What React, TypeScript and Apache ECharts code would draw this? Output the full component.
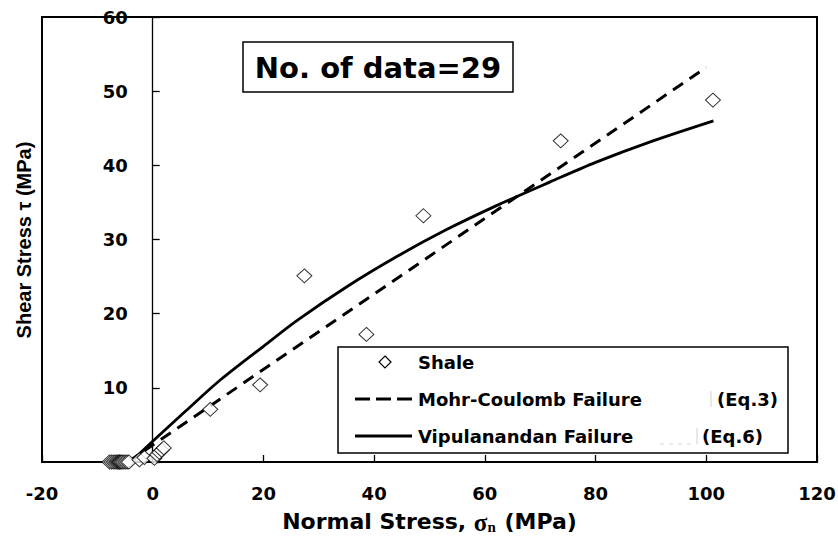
import React, { useEffect, useRef } from "react";
import * as echarts from "echarts";

// ---- data ----
const shaleStress = [
  -7.8, -7.45, -7.1, -6.8, -6.5, -6.3, -6.1, -6.0, -5.9, -5.7, -5.5, -5.2, -4.9, -4.6, -4.3,
  -2.4, -1.5, 0.3, 0.8, 1.2, 1.6, 2.0,
  10.4, 19.4, 27.4, 38.6, 48.9, 73.7, 101.2,
];
const shaleShear = [
  0, 0, 0, 0, 0, 0, 0, 0, 0, 0, 0, 0, 0, 0, 0,
  0.3, 0.6, 0.5, 1.0, 1.3, 1.6, 1.9,
  7.1, 10.4, 25.1, 17.2, 33.2, 43.3, 48.8,
];
const mohrStress = [-4.5, 100];
const mohrShear = [0, 53.2];
const vipStress = [-4, 0, 6, 12.2, 20, 26.1, 35, 44.1, 53, 62.2, 71.9, 80, 90, 101.3];
const vipShear = [0, 2.8, 6.9, 11.05, 15.6, 19.1, 23.6, 27.7, 31.3, 34.6, 37.8, 40.4, 43.2, 46.0];

const legendNames = ["Shale", "Mohr-Coulomb Failure", "Vipulanandan Failure"];
const legendEqs = ["", "(Eq.3)", "(Eq.6)"];
const dataCountLabel = "No. of data=29";
const xAxisMin = -20, xAxisMax = 120, xAxisStep = 20;
const yAxisMin = 0, yAxisMax = 60, yAxisStep = 10;

const BOLD = "bold 18px 'DejaVu Sans'";
const GRID = { left: 42, right: 21, top: 17, bottom: 78 };

export default function App() {
  const ref = useRef<HTMLDivElement>(null);
  useEffect(() => {
    if (!ref.current) return;
    const chart = echarts.init(ref.current, null, { renderer: "svg" });
    const zip = (a: number[], b: number[]) => a.map((v, i) => [v, b[i]]);
    const tickStyle = { fontFamily: "DejaVu Sans", fontWeight: "bold" as const, fontSize: 18, color: "#000" };
    const plotW = 838 - GRID.left - GRID.right;
    // shift the y axis from the grid's left edge to the x = 0 position
    const yOffset = -((0 - xAxisMin) / (xAxisMax - xAxisMin)) * plotW;
    chart.setOption({
      animation: false,
      backgroundColor: "#fff",
      grid: {
        ...GRID, show: true, borderColor: "#000", borderWidth: 2, backgroundColor: "transparent",
        containLabel: false, outerBoundsMode: "none",
      },
      xAxis: {
        type: "value", min: xAxisMin, max: xAxisMax, interval: xAxisStep,
        axisLine: { show: true, onZero: false, lineStyle: { color: "#000", width: 2 } },
        axisTick: { show: true, inside: true, length: 7, lineStyle: { color: "#000", width: 1.3 } },
        axisLabel: { ...tickStyle, margin: 22 },
        splitLine: { show: false },
        name: "{a|Normal Stress, }{s|σ}{n|n}{a| (MPa)}",
        nameLocation: "middle",
        nameGap: 48,
        nameTextStyle: {
          rich: {
            a: { fontFamily: "DejaVu Sans", fontWeight: "bold", fontSize: 22, color: "#000", lineHeight: 26, verticalAlign: "top" },
            s: { fontFamily: "Liberation Serif", fontWeight: "bold", fontSize: 25, color: "#000", lineHeight: 26, verticalAlign: "top" },
            n: { fontFamily: "Liberation Serif", fontWeight: "bold", fontSize: 15, color: "#000", lineHeight: 26, verticalAlign: "top", padding: [9, 1, 0, 0] },
          },
        },
      },
      yAxis: {
        type: "value", min: yAxisMin, max: yAxisMax, interval: yAxisStep,
        position: "left", offset: yOffset,
        axisLine: { show: true, onZero: false, lineStyle: { color: "#000", width: 1.3 } },
        axisTick: { show: true, inside: true, length: 7, lineStyle: { color: "#000", width: 1.3 } },
        axisLabel: { ...tickStyle, margin: 25, formatter: (v: number) => (v === 0 ? "" : String(v)) },
        splitLine: { show: false },
      },
      series: [
        {
          name: legendNames[0], type: "scatter", data: zip(shaleStress, shaleShear),
          symbol: "diamond", symbolSize: [15, 14], clip: false,
          itemStyle: { color: "#fff", borderColor: "#000", borderWidth: 1 }, z: 5,
        },
        {
          name: legendNames[1], type: "line", data: zip(mohrStress, mohrShear), showSymbol: false,
          lineStyle: { color: "#000", width: 3, type: [12, 8] }, z: 3,
        },
        {
          name: legendNames[2], type: "line", data: zip(vipStress, vipShear), showSymbol: false, smooth: 0.3,
          lineStyle: { color: "#000", width: 2.8 }, z: 4,
        },
      ],
      graphic: [
        {
          type: "text", x: 24, y: 240, rotation: Math.PI / 2,
          style: { text: "Shear Stress τ (MPa)", font: "bold 20px 'Liberation Sans'", fill: "#000", align: "center", verticalAlign: "middle" },
        },
        { type: "rect", shape: { x: 243, y: 42, width: 270, height: 50 }, style: { fill: "#fff", stroke: "#000", lineWidth: 1.5 }, z: 10 },
        {
          type: "text", x: 378, y: 68, z: 11,
          style: { text: dataCountLabel, font: "bold 29px 'DejaVu Sans'", fill: "#000", align: "center", verticalAlign: "middle" },
        },
        { type: "rect", shape: { x: 338, y: 347, width: 450, height: 106 }, style: { fill: "#fff", stroke: "#000", lineWidth: 1.5 }, z: 10 },
        { type: "polygon", shape: { points: [[385, 356], [391, 362], [385, 368], [379, 362]] }, style: { fill: "#fff", stroke: "#000", lineWidth: 1.2 }, z: 11 },
        { type: "line", shape: { x1: 355, y1: 399, x2: 412, y2: 399 }, style: { stroke: "#000", lineWidth: 3, lineDash: [15, 6] }, z: 11 },
        { type: "line", shape: { x1: 355, y1: 436, x2: 412, y2: 436 }, style: { stroke: "#000", lineWidth: 2.8 }, z: 11 },
        { type: "text", x: 418, y: 362, z: 11, style: { text: legendNames[0], font: BOLD, fill: "#000", verticalAlign: "middle" } },
        { type: "text", x: 418, y: 399, z: 11, style: { text: legendNames[1], font: BOLD, fill: "#000", verticalAlign: "middle" } },
        { type: "text", x: 418, y: 436, z: 11, style: { text: legendNames[2], font: BOLD, fill: "#000", verticalAlign: "middle" } },
        { type: "line", shape: { x1: 711, y1: 391, x2: 711, y2: 407 }, style: { stroke: "#d0d0d0", lineWidth: 1 }, z: 11 },
        { type: "line", shape: { x1: 697, y1: 428, x2: 697, y2: 444 }, style: { stroke: "#d0d0d0", lineWidth: 1 }, z: 11 },
        { type: "line", shape: { x1: 660, y1: 444, x2: 695, y2: 444 }, style: { stroke: "#d8d8d8", lineWidth: 1, lineDash: [4, 5] }, z: 11 },
        { type: "text", x: 717, y: 399, z: 11, style: { text: legendEqs[1], font: BOLD, fill: "#000", verticalAlign: "middle" } },
        { type: "text", x: 702, y: 436, z: 11, style: { text: legendEqs[2], font: BOLD, fill: "#000", verticalAlign: "middle" } },
      ],
    });
    return () => chart.dispose();
  }, []);
  return <div ref={ref} style={{ width: 838, height: 540, position: "absolute", left: 0, top: 0 }} />;
}
